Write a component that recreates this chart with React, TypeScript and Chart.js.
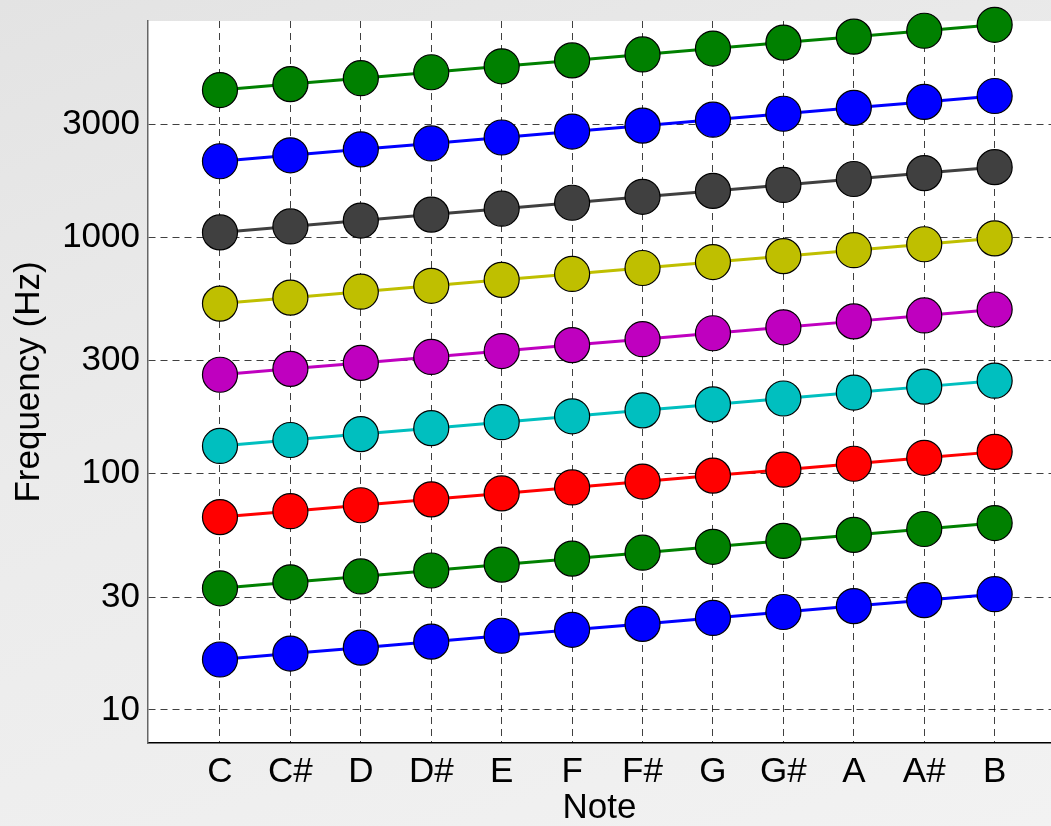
import React, { useEffect, useRef } from "react";
import { Chart, registerables } from "chart.js";

Chart.register(...registerables);

// Note names along the x axis
const notes = ["C", "C#", "D", "D#", "E", "F", "F#", "G", "G#", "A", "A#", "B"];

// Equal-tempered pitch frequencies (Hz), one array per octave
const octave0 = [16.35, 17.32, 18.35, 19.45, 20.6, 21.83, 23.12, 24.5, 25.96, 27.5, 29.14, 30.87];
const octave1 = [32.7, 34.65, 36.71, 38.89, 41.2, 43.65, 46.25, 49.0, 51.91, 55.0, 58.27, 61.74];
const octave2 = [65.41, 69.3, 73.42, 77.78, 82.41, 87.31, 92.5, 98.0, 103.83, 110.0, 116.54, 123.47];
const octave3 = [130.81, 138.59, 146.83, 155.56, 164.81, 174.61, 185.0, 196.0, 207.65, 220.0, 233.08, 246.94];
const octave4 = [261.63, 277.18, 293.66, 311.13, 329.63, 349.23, 369.99, 392.0, 415.3, 440.0, 466.16, 493.88];
const octave5 = [523.25, 554.37, 587.33, 622.25, 659.25, 698.46, 739.99, 783.99, 830.61, 880.0, 932.33, 987.77];
const octave6 = [1046.5, 1108.73, 1174.66, 1244.51, 1318.51, 1396.91, 1479.98, 1567.98, 1661.22, 1760.0, 1864.66, 1975.53];
const octave7 = [2093.0, 2217.46, 2349.32, 2489.02, 2637.02, 2793.83, 2959.96, 3135.96, 3322.44, 3520.0, 3729.31, 3951.07];
const octave8 = [4186.01, 4434.92, 4698.63, 4978.03, 5274.04, 5587.65, 5919.91, 6271.93, 6644.88, 7040.0, 7458.62, 7902.13];

const octaves = [octave0, octave1, octave2, octave3, octave4, octave5, octave6, octave7, octave8];

// Line colours, cycled per octave
const octaveColors = [
  "#0000ff",
  "#008000",
  "#ff0000",
  "#00bfbf",
  "#bf00bf",
  "#bfbf00",
  "#404040",
  "#0000ff",
  "#008000",
];

// Y axis tick values
const yTicks = [10, 30, 100, 300, 1000, 3000];

const FONT = "'Liberation Sans', Arial, sans-serif";

const whitePlotArea = {
  id: "whitePlotArea",
  beforeDraw(chart: any) {
    const { ctx, chartArea } = chart;
    ctx.save();
    ctx.fillStyle = "#ffffff";
    ctx.fillRect(chartArea.left, chartArea.top, chartArea.right - chartArea.left, chartArea.bottom - chartArea.top);
    ctx.restore();
  },
};

export default function App() {
  const canvasRef = useRef<HTMLCanvasElement | null>(null);

  useEffect(() => {
    const canvas = canvasRef.current;
    if (!canvas) return;

    const datasets = octaves.map((values, k) => ({
      label: `Octave ${k}`,
      data: values.map((v, i) => ({ x: i, y: v })),
      borderColor: octaveColors[k],
      backgroundColor: octaveColors[k],
      borderWidth: 3,
      pointRadius: 17.5,
      pointBorderWidth: 1.2,
      pointBorderColor: "#000000",
      pointBackgroundColor: octaveColors[k],
      clip: false as any,
    }));

    const chart = new Chart(canvas, {
      type: "line",
      data: { datasets },
      plugins: [whitePlotArea],
      options: {
        animation: false,
        responsive: false,
        events: [],
        layout: { autoPadding: false, padding: { top: 21, left: 0, right: 0, bottom: 0 } },
        plugins: {
          legend: { display: false },
          tooltip: { enabled: false },
        },
        scales: {
          x: {
            type: "linear",
            min: -1.022,
            max: 11.8,
            afterBuildTicks: (scale: any) => {
              scale.ticks = notes.map((_, i) => ({ value: i }));
            },
            afterFit: (scale: any) => {
              scale.height = 83;
              scale.paddingLeft = 0;
              scale.paddingRight = 0;
            },
            ticks: {
              autoSkip: false,
              maxRotation: 0,
              padding: 8,
              color: "#000000",
              font: { family: FONT, size: 35 },
              callback: (v: any) => notes[Math.round(Number(v))] ?? "",
            },
            grid: {
              color: "rgba(0,0,0,0.75)",
              lineWidth: 1,
              drawTicks: false,
            },
            border: { color: "#000000", width: 1.5, dash: [7, 5] },
            title: {
              display: true,
              text: "Note",
              color: "#000000",
              font: { family: FONT, size: 35, lineHeight: 1 },
              padding: { top: 0, bottom: 0 },
            },
          },
          y: {
            type: "logarithmic",
            min: 7.25,
            max: 8200,
            afterBuildTicks: (scale: any) => {
              scale.ticks = yTicks.map((v) => ({ value: v }));
            },
            afterFit: (scale: any) => {
              scale.width = 148;
              scale.paddingTop = 0;
              scale.paddingBottom = 0;
            },
            ticks: {
              autoSkip: false,
              padding: 8,
              color: "#000000",
              font: { family: FONT, size: 35 },
              callback: (v: any) => String(v),
            },
            grid: {
              color: "rgba(0,0,0,0.75)",
              lineWidth: 1,
              drawTicks: false,
            },
            border: { color: "#666666", width: 1.5, dash: [7, 5] },
            title: {
              display: true,
              text: "Frequency (Hz)",
              color: "#000000",
              font: { family: FONT, size: 35, lineHeight: 1 },
              padding: { top: 12, bottom: 0 },
            },
          },
        },
      },
    });

    return () => chart.destroy();
  }, []);

  return (
    <div
      style={{
        position: "fixed",
        left: 0,
        top: 0,
        width: 1051,
        height: 826,
        overflow: "hidden",
        background: "linear-gradient(160deg, #e3e3e3 0%, #ebebeb 40%, #f2f2f2 100%)",
      }}
    >
      <canvas ref={canvasRef} width={1051} height={826} style={{ display: "block" }} />
    </div>
  );
}
